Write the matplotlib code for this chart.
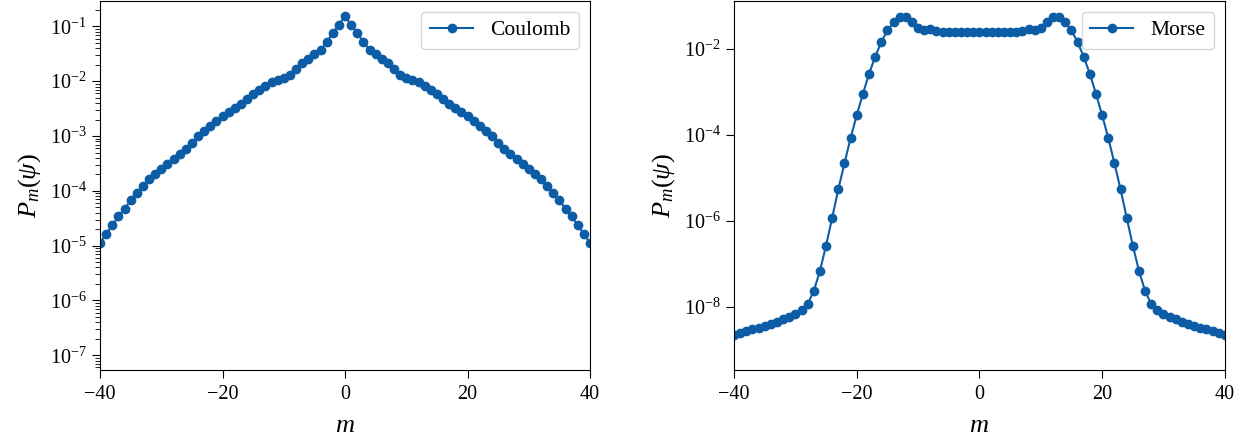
import matplotlib
matplotlib.use("Agg")
import matplotlib.pyplot as plt
import numpy as np
from matplotlib.ticker import NullLocator

plt.rcParams["font.family"] = ["Liberation Serif", "DejaVu Serif"]
plt.rcParams["mathtext.fontset"] = "custom"
plt.rcParams["mathtext.rm"] = "Liberation Serif"
plt.rcParams["mathtext.it"] = "Liberation Serif:italic"
plt.rcParams["font.size"] = 14.5
plt.rcParams["axes.labelsize"] = 19
plt.rcParams["legend.fontsize"] = 15.5
plt.rcParams["xtick.major.size"] = 6
plt.rcParams["ytick.major.size"] = 6
plt.rcParams["ytick.minor.size"] = 3.5
plt.rcParams["xtick.major.pad"] = 5

color = "#0C5DA5"

m = np.arange(-40, 41)

coulomb = [
    1.11e-5, 1.63e-5, 2.34e-5, 3.41e-5, 4.71e-5, 6.68e-5, 9.12e-5, 1.24e-4,
    1.64e-4, 2.03e-4, 2.53e-4, 3.08e-4, 3.75e-4, 4.70e-4, 5.86e-4, 7.45e-4,
    9.84e-4, 1.25e-3, 1.54e-3, 1.90e-3, 2.28e-3, 2.74e-3, 3.24e-3, 3.88e-3,
    4.80e-3, 5.83e-3, 7.00e-3, 8.28e-3, 9.51e-3, 1.064e-2, 1.143e-2, 1.315e-2,
    1.69e-2, 2.15e-2, 2.58e-2, 3.13e-2, 3.76e-2, 5.11e-2, 7.59e-2, 0.1074,
    0.152,
    0.1074, 7.59e-2, 5.11e-2, 3.76e-2, 3.13e-2, 2.58e-2, 2.15e-2, 1.69e-2,
    1.315e-2, 1.143e-2, 1.064e-2, 9.51e-3, 8.28e-3, 7.00e-3, 5.83e-3, 4.80e-3,
    3.88e-3, 3.24e-3, 2.74e-3, 2.28e-3, 1.90e-3, 1.54e-3, 1.25e-3, 9.84e-4,
    7.45e-4, 5.86e-4, 4.70e-4, 3.75e-4, 3.08e-4, 2.53e-4, 2.03e-4, 1.64e-4,
    1.24e-4, 9.12e-5, 6.68e-5, 4.71e-5, 3.41e-5, 2.34e-5, 1.63e-5, 1.11e-5,
]

morse = [
    2.23e-9, 2.46e-9, 2.71e-9, 2.98e-9, 3.28e-9, 3.61e-9, 4.03e-9, 4.53e-9,
    5.12e-9, 5.85e-9, 6.87e-9, 8.30e-9, 1.16e-8, 2.36e-8, 6.87e-8, 2.67e-7,
    1.19e-6, 5.46e-6, 2.20e-5, 8.51e-5, 2.87e-4, 8.97e-4, 2.62e-3, 6.52e-3,
    1.455e-2, 2.69e-2, 4.18e-2, 5.46e-2, 5.41e-2, 4.13e-2, 3.08e-2, 2.69e-2,
    2.83e-2, 2.62e-2, 2.51e-2, 2.45e-2, 2.44e-2, 2.43e-2, 2.43e-2, 2.43e-2,
    2.43e-2,
    2.43e-2, 2.43e-2, 2.43e-2, 2.44e-2, 2.45e-2, 2.51e-2, 2.62e-2, 2.83e-2,
    2.69e-2, 3.08e-2, 4.13e-2, 5.41e-2, 5.46e-2, 4.18e-2, 2.69e-2, 1.455e-2,
    6.52e-3, 2.62e-3, 8.97e-4, 2.87e-4, 8.51e-5, 2.20e-5, 5.46e-6, 1.19e-6,
    2.67e-7, 6.87e-8, 2.36e-8, 1.16e-8, 8.30e-9, 6.87e-9, 5.85e-9, 5.12e-9,
    4.53e-9, 4.03e-9, 3.61e-9, 3.28e-9, 2.98e-9, 2.71e-9, 2.46e-9, 2.23e-9,
]

fig = plt.figure(figsize=(12.52, 4.44), dpi=100)
ax1 = fig.add_axes([0.0799, 0.1667, 0.3914, 0.831])
ax2 = fig.add_axes([0.5863, 0.1667, 0.392, 0.831])

ax1.plot(m, coulomb, "o-", color=color, label="Coulomb")
ax1.set_yscale("log")
ax1.set_xlim(-40, 40)
ax1.set_ylim(5.4e-8, 0.29)

ax2.plot(m, morse, "o-", color=color, label="Morse")
ax2.set_yscale("log")
ax2.set_xlim(-40, 40)
ax2.set_ylim(3.4e-10, 0.13)
ax2.set_yticks([1e-8, 1e-6, 1e-4, 1e-2])
ax2.yaxis.set_minor_locator(NullLocator())

for ax in (ax1, ax2):
    ax.set_xticks([-40, -20, 0, 20, 40])
    ax.set_xlabel("$m$", labelpad=8)
    ax.set_ylabel(r"$P_m(\psi)$", labelpad=5)
    ax.legend(loc="upper right")

fig.savefig("out.png", dpi=100)
